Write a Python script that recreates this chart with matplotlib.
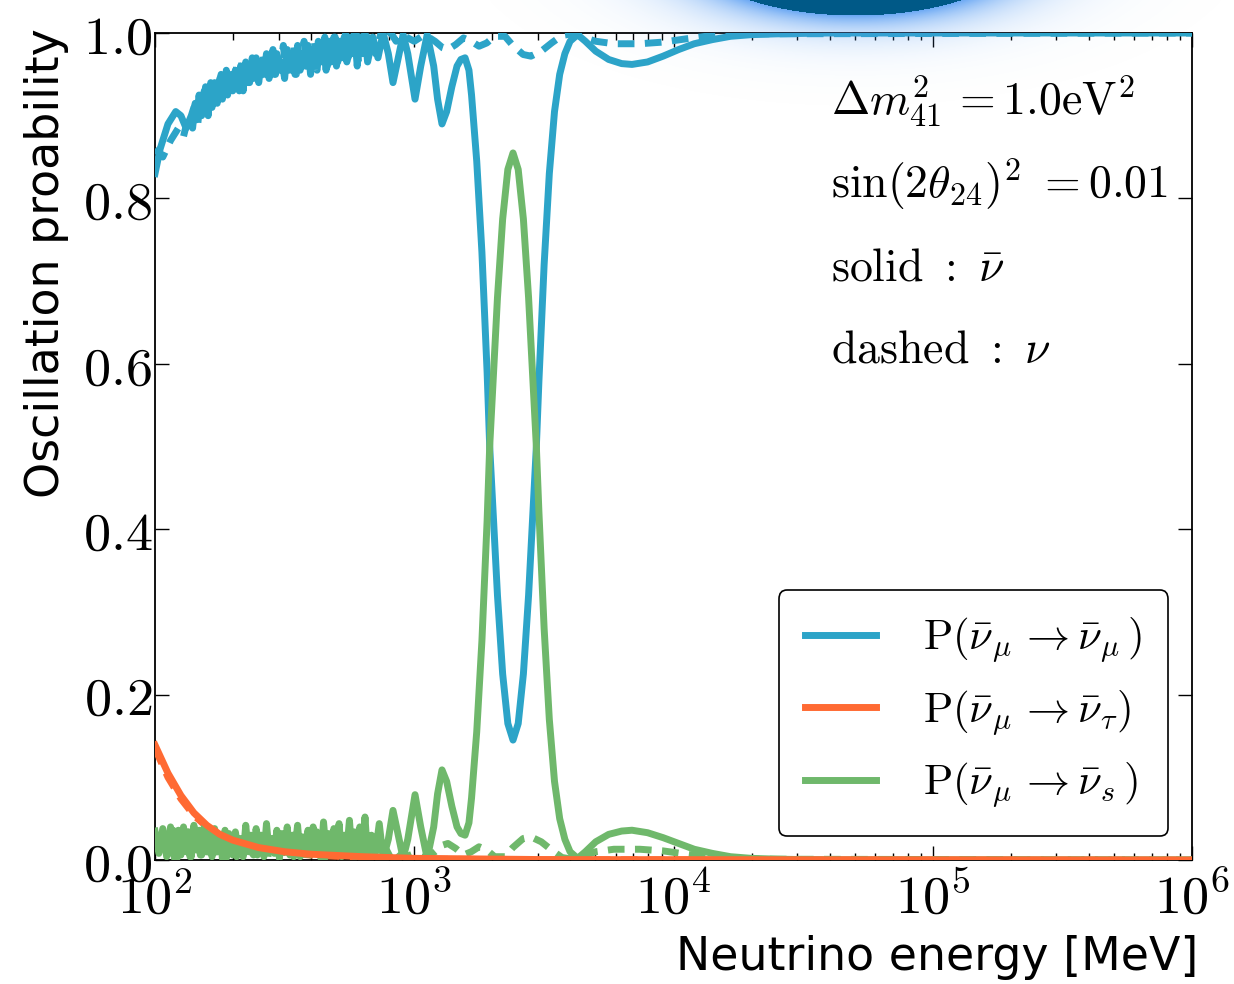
import matplotlib
matplotlib.use("Agg")
import matplotlib.pyplot as plt
import numpy as np
from matplotlib.ticker import FixedLocator, FuncFormatter, LogLocator, NullFormatter

plt.rcParams["mathtext.fontset"] = "cm"

# log10(E / MeV) and probabilities, solid = antineutrino
mumu_bar_loge = [
    2.00, 2.02, 2.05, 2.08, 2.10, 2.12, 2.14, 2.15, 2.16, 2.17, 2.18, 2.19, 2.20,
    2.21, 2.22, 2.23, 2.24, 2.25, 2.26, 2.27, 2.28, 2.29, 2.30, 2.31, 2.32, 2.33,
    2.34, 2.35, 2.36, 2.37, 2.38, 2.39, 2.40, 2.41, 2.42, 2.43, 2.44, 2.45, 2.46,
    2.47, 2.48, 2.49, 2.50, 2.51, 2.52, 2.53, 2.54, 2.55, 2.56, 2.57, 2.58, 2.59,
    2.60, 2.61, 2.62, 2.63, 2.64, 2.65, 2.66, 2.67, 2.68, 2.69, 2.70, 2.71, 2.72,
    2.73, 2.74, 2.75, 2.76, 2.77, 2.78, 2.79, 2.80, 2.81, 2.82, 2.84, 2.86, 2.88,
    2.90, 2.918, 2.935, 2.957, 2.975, 3.003, 3.025, 3.05, 3.075, 3.09, 3.107, 3.125,
    3.145, 3.165, 3.18, 3.196, 3.211, 3.221, 3.241, 3.261, 3.281, 3.291, 3.301,
    3.321, 3.341, 3.361, 3.381, 3.401, 3.421, 3.441, 3.461, 3.471, 3.481, 3.501,
    3.521, 3.541, 3.561, 3.581, 3.601, 3.63, 3.66, 3.70, 3.75, 3.80, 3.84, 3.90,
    3.96, 4.02, 4.08, 4.15, 4.22, 4.30, 4.40, 4.60, 6.00,
]
mumu_bar = [
    0.830, 0.860, 0.890, 0.905, 0.900, 0.885, 0.900, 0.910, 0.895, 0.925, 0.900, 0.930, 0.905,
    0.935, 0.910, 0.940, 0.915, 0.945, 0.920, 0.950, 0.925, 0.945, 0.930, 0.955, 0.935, 0.960,
    0.930, 0.965, 0.940, 0.960, 0.945, 0.970, 0.940, 0.965, 0.950, 0.975, 0.945, 0.970, 0.950,
    0.975, 0.955, 0.965, 0.945, 0.980, 0.955, 0.970, 0.950, 0.985, 0.955, 0.975, 0.960, 0.985,
    0.950, 0.980, 0.960, 0.990, 0.965, 0.985, 0.955, 0.990, 0.965, 0.995, 0.960, 0.990, 0.970,
    0.995, 0.965, 0.990, 0.975, 1.000, 0.960, 0.995, 0.975, 1.000, 0.965, 0.995, 0.970, 1.000,
    0.975, 0.940, 0.965, 0.998, 0.975, 0.920, 0.960, 0.998, 0.960, 0.920, 0.890, 0.905,
    0.935, 0.960, 0.968, 0.970, 0.955, 0.925, 0.845, 0.735, 0.590, 0.500, 0.440,
    0.320, 0.225, 0.165, 0.145, 0.165, 0.225, 0.320, 0.440, 0.500, 0.580, 0.720,
    0.830, 0.905, 0.950, 0.975, 0.990, 0.998, 0.990, 0.978, 0.968, 0.963, 0.962, 0.965,
    0.972, 0.980, 0.987, 0.992, 0.996, 0.998, 0.999, 1.000, 1.000,
]

mumu_loge = [
    2.00, 2.03, 2.06, 2.09, 2.11, 2.13, 2.145, 2.155, 2.165, 2.175, 2.185, 2.195,
    2.205, 2.215, 2.225, 2.235, 2.245, 2.255, 2.265, 2.275, 2.285, 2.295, 2.305,
    2.315, 2.325, 2.335, 2.345, 2.355, 2.365, 2.375, 2.385, 2.395, 2.405, 2.415,
    2.425, 2.435, 2.445, 2.455, 2.465, 2.475, 2.485, 2.495, 2.505, 2.515, 2.525,
    2.535, 2.545, 2.555, 2.565, 2.575, 2.585, 2.595, 2.605, 2.615, 2.625, 2.635,
    2.645, 2.655, 2.665, 2.675, 2.685, 2.695, 2.705, 2.715, 2.725, 2.735, 2.745,
    2.755, 2.765, 2.775, 2.785, 2.795, 2.81, 2.83, 2.85, 2.87, 2.89, 2.91, 2.93,
    2.95, 2.97, 3.00, 3.04, 3.08, 3.11, 3.13, 3.16, 3.19, 3.22, 3.25, 3.28, 3.31,
    3.35, 3.38, 3.42, 3.45, 3.49, 3.53, 3.57, 3.61, 3.65, 3.70, 3.77, 3.87, 3.96,
    4.05, 4.15, 4.30, 6.00,
]
mumu = [
    0.860, 0.850, 0.870, 0.885, 0.875, 0.900, 0.885, 0.915, 0.890, 0.920, 0.905, 0.935,
    0.900, 0.940, 0.915, 0.935, 0.920, 0.950, 0.925, 0.955, 0.930, 0.950, 0.935,
    0.960, 0.930, 0.965, 0.945, 0.960, 0.940, 0.970, 0.950, 0.965, 0.945, 0.975,
    0.950, 0.970, 0.955, 0.980, 0.950, 0.970, 0.960, 0.985, 0.955, 0.975, 0.960,
    0.985, 0.950, 0.980, 0.965, 0.990, 0.960, 0.980, 0.965, 0.990, 0.955, 0.985,
    0.970, 0.995, 0.960, 0.990, 0.970, 0.995, 0.965, 0.990, 0.975, 1.000, 0.970,
    0.995, 0.975, 1.000, 0.965, 0.995, 0.980, 1.000, 0.975, 0.998, 0.985, 1.000, 0.990,
    0.998, 0.995, 0.990, 0.998, 0.990, 0.982, 0.980, 0.986, 0.994, 0.990, 0.984, 0.988, 0.996,
    0.996, 0.985, 0.974, 0.972, 0.978, 0.988, 0.997, 0.999, 0.995, 0.990, 0.987, 0.987, 0.989,
    0.993, 0.997, 0.999, 1.000,
]

mutau_bar_loge = [2.00, 2.05, 2.10, 2.15, 2.20, 2.25, 2.30, 2.40, 2.50, 2.60, 2.80, 3.00, 3.50, 6.00]
mutau_bar = [0.139, 0.105, 0.078, 0.057, 0.042, 0.031, 0.024, 0.015, 0.010, 0.007, 0.004, 0.002, 0.0005, 0.0]
mutau_loge = [2.00, 2.05, 2.10, 2.15, 2.20, 2.25, 2.30, 2.40, 2.50, 2.60, 2.80, 3.00, 3.50, 6.00]
mutau = [0.135, 0.100, 0.074, 0.054, 0.040, 0.030, 0.022, 0.014, 0.009, 0.006, 0.003, 0.001, 0.0003, 0.0]

mus_bar_loge = [
    2.000, 2.015, 2.030, 2.045, 2.060, 2.075, 2.090, 2.100, 2.110, 2.120, 2.130, 2.140,
    2.150, 2.160, 2.170, 2.180, 2.190, 2.200, 2.210, 2.220, 2.230, 2.240, 2.250, 2.260,
    2.270, 2.280, 2.290, 2.300, 2.310, 2.320, 2.330, 2.340, 2.350, 2.360, 2.370, 2.380,
    2.390, 2.400, 2.410, 2.420, 2.430, 2.440, 2.450, 2.460, 2.470, 2.480, 2.490, 2.500,
    2.510, 2.520, 2.530, 2.540, 2.550, 2.560, 2.570, 2.580, 2.590, 2.600, 2.610, 2.620,
    2.630, 2.640, 2.650, 2.660, 2.670, 2.680, 2.690, 2.700, 2.710, 2.720, 2.730, 2.740,
    2.750, 2.760, 2.770, 2.780, 2.790, 2.800, 2.810, 2.820, 2.835, 2.850, 2.865, 2.880,
    2.90, 2.918, 2.935, 2.957, 2.975, 3.003, 3.025, 3.05, 3.075, 3.09, 3.107, 3.125,
    3.145, 3.165, 3.18, 3.196, 3.211, 3.221, 3.241, 3.261, 3.281, 3.291, 3.301,
    3.321, 3.341, 3.361, 3.381, 3.401, 3.421, 3.441, 3.461, 3.471, 3.481, 3.501,
    3.521, 3.541, 3.561, 3.581, 3.601, 3.63, 3.66, 3.70, 3.75, 3.80, 3.84, 3.90,
    3.96, 4.02, 4.08, 4.15, 4.22, 4.30, 4.40, 4.60, 6.00,
]
mus_bar = [
    0.035, 0.008, 0.038, 0.004, 0.040, 0.002, 0.036, 0.006, 0.040, 0.010, 0.034, 0.004,
    0.042, 0.012, 0.036, 0.006, 0.040, 0.014, 0.032, 0.004, 0.038, 0.010, 0.030, 0.002,
    0.036, 0.012, 0.028, 0.006, 0.034, 0.014, 0.026, 0.004, 0.042, 0.010, 0.030, 0.006,
    0.038, 0.012, 0.030, 0.004, 0.044, 0.010, 0.026, 0.008, 0.036, 0.002, 0.032, 0.012,
    0.040, 0.006, 0.030, 0.014, 0.042, 0.004, 0.028, 0.010, 0.036, 0.006, 0.040, 0.012,
    0.030, 0.002, 0.046, 0.010, 0.032, 0.006, 0.038, 0.014, 0.044, 0.004, 0.030, 0.012,
    0.048, 0.006, 0.034, 0.002, 0.040, 0.010, 0.052, 0.004, 0.030, 0.008, 0.044, 0.002,
    0.025, 0.060, 0.035, 0.002, 0.025, 0.079, 0.040, 0.002, 0.040, 0.080, 0.109, 0.095,
    0.065, 0.040, 0.032, 0.030, 0.045, 0.075, 0.155, 0.265, 0.410, 0.500, 0.560,
    0.680, 0.775, 0.835, 0.855, 0.835, 0.775, 0.680, 0.560, 0.500, 0.420, 0.280,
    0.170, 0.095, 0.050, 0.025, 0.010, 0.002, 0.010, 0.022, 0.031, 0.035, 0.036, 0.033,
    0.027, 0.020, 0.013, 0.008, 0.004, 0.002, 0.001, 0.000, 0.000,
]

mus_loge = [
    2.000, 2.020, 2.040, 2.055, 2.070, 2.085, 2.105, 2.115, 2.125, 2.135, 2.145, 2.155,
    2.165, 2.175, 2.185, 2.195, 2.205, 2.215, 2.225, 2.235, 2.245, 2.255, 2.265, 2.275,
    2.285, 2.295, 2.305, 2.315, 2.325, 2.335, 2.345, 2.355, 2.365, 2.375, 2.385, 2.395,
    2.405, 2.415, 2.425, 2.435, 2.445, 2.455, 2.465, 2.475, 2.485, 2.495, 2.505, 2.515,
    2.525, 2.535, 2.545, 2.555, 2.565, 2.575, 2.585, 2.595, 2.605, 2.615, 2.625, 2.635,
    2.645, 2.655, 2.665, 2.675, 2.685, 2.695, 2.705, 2.715, 2.725, 2.735, 2.745, 2.755,
    2.765, 2.775, 2.785, 2.795, 2.81, 2.83, 2.85, 2.87, 2.89, 2.91, 2.93, 2.95,
    2.97, 3.00, 3.04, 3.08, 3.11, 3.13, 3.16, 3.19, 3.22, 3.25, 3.28, 3.31,
    3.35, 3.38, 3.42, 3.45, 3.49, 3.53, 3.57, 3.61, 3.65, 3.70, 3.77, 3.87, 3.96,
    4.05, 4.15, 4.30, 6.00,
]
mus = [
    0.030, 0.004, 0.032, 0.008, 0.036, 0.002, 0.030, 0.010, 0.034, 0.004, 0.028, 0.012,
    0.034, 0.006, 0.030, 0.002, 0.032, 0.010, 0.026, 0.004, 0.030, 0.012, 0.028, 0.002,
    0.032, 0.008, 0.024, 0.004, 0.030, 0.010, 0.026, 0.002, 0.034, 0.008, 0.022, 0.006,
    0.030, 0.010, 0.024, 0.002, 0.032, 0.006, 0.020, 0.008, 0.028, 0.002, 0.030, 0.010,
    0.022, 0.004, 0.032, 0.006, 0.020, 0.002, 0.030, 0.008, 0.024, 0.004, 0.034, 0.010,
    0.020, 0.002, 0.028, 0.006, 0.022, 0.004, 0.030, 0.008, 0.018, 0.002, 0.026, 0.006,
    0.020, 0.002, 0.028, 0.006, 0.016, 0.002, 0.022, 0.004, 0.014, 0.002, 0.010, 0.003,
    0.004, 0.008, 0.002, 0.010, 0.018, 0.020, 0.014, 0.006, 0.010, 0.016, 0.012, 0.004,
    0.004, 0.015, 0.026, 0.028, 0.022, 0.012, 0.003, 0.001, 0.005, 0.010, 0.013, 0.013, 0.011,
    0.007, 0.003, 0.001, 0.000,
]

blue = "#2ca4c8"
orange = "#ff6a33"
green = "#6fb86b"
lw = 5.0
dash = (2.4, 1.5)

fig = plt.figure(figsize=(12.34, 9.84), dpi=100)
ax = fig.add_axes([155 / 1234, 1 - 860 / 984, 1037 / 1234, 827 / 984])

ax.plot(10 ** np.array(mumu_bar_loge), mumu_bar, color=blue, lw=lw, zorder=3,
        label=r"$\mathrm{P}(\bar{\nu}_\mu\,{\rightarrow}\bar{\nu}_\mu\,)$")
ax.plot(10 ** np.array(mumu_loge), mumu, color=blue, lw=lw, dashes=dash, zorder=3)
ax.plot(10 ** np.array(mutau_bar_loge), mutau_bar, color=orange, lw=lw, zorder=5,
        label=r"$\mathrm{P}(\bar{\nu}_\mu\,{\rightarrow}\bar{\nu}_\tau)$")
ax.plot(10 ** np.array(mutau_loge), mutau, color=orange, lw=lw, dashes=dash, zorder=3)
ax.plot(10 ** np.array(mus_bar_loge), mus_bar, color=green, lw=lw, zorder=4,
        label=r"$\mathrm{P}(\bar{\nu}_\mu\,{\rightarrow}\bar{\nu}_s\,)$")
ax.plot(10 ** np.array(mus_loge), mus, color=green, lw=lw, dashes=dash, zorder=4)

ax.set_xscale("log")
ax.set_xlim(1e2, 1e6)
ax.set_ylim(0, 1)

ax.xaxis.set_major_locator(LogLocator(base=10, numticks=10))
ax.xaxis.set_minor_locator(LogLocator(base=10, subs=np.arange(2, 10), numticks=50))
ax.xaxis.set_major_formatter(FuncFormatter(lambda v, p: r"$10^{%d}$" % round(np.log10(v))))
ax.xaxis.set_minor_formatter(NullFormatter())
ax.yaxis.set_major_locator(FixedLocator([0, 0.2, 0.4, 0.6, 0.8, 1.0]))
ax.yaxis.set_major_formatter(FuncFormatter(lambda v, p: r"$%.1f$" % v))
ax.tick_params(which="both", direction="in", top=True, right=True, labelsize=39)
ax.tick_params(which="major", length=10, width=1)
ax.tick_params(which="minor", length=5, width=1)
ax.tick_params(axis="x", pad=9)
ax.tick_params(axis="y", pad=2)
for s in ax.spines.values():
    s.set_linewidth(1.3)

label_font = ["Liberation Sans Narrow", "DejaVu Sans"]
fig.text(47 / 1234, 1 - 28 / 984, "Oscillation proability", rotation=90,
         ha="center", va="top", fontsize=33, family=label_font)
fig.text(1198 / 1234, 1 - 958 / 984, "Neutrino energy [MeV]",
         ha="right", va="center", fontsize=33, family=label_font)

notes = [
    r"$\Delta m^2_{41}\,{=}1.0\mathrm{eV}^2$",
    r"$\sin(2\theta_{24})^2\ {=}0.01$",
    r"$\mathrm{solid}\ :\ \bar{\nu}$",
    r"$\mathrm{dashed}\ :\ \nu$",
]
for i, t in enumerate(notes):
    ax.text(0.652, 0.901 - i * 0.1, t, transform=ax.transAxes, fontsize=33,
            ha="left", va="baseline")

leg = ax.legend(loc="lower right", fontsize=31, handlelength=1.65, handletextpad=1.1,
                borderpad=0.6, labelspacing=0.55, borderaxespad=0.55, fancybox=True,
                framealpha=1, edgecolor="black")
leg.get_frame().set_linewidth(1.2)
leg.set_zorder(6)

# blue glow at the top edge of the page
W, H = 1234, 984
yy, xx = np.mgrid[0:H, 0:W]
r = np.sqrt(((xx - 855) / 170.0) ** 2 + ((yy + 55) / 70.0) ** 2)
rgba = np.zeros((H, W, 4))
core = r < 1
rgba[core] = [0.0, 0.35, 0.53, 1.0]
halo = ~core
a = 0.85 * np.exp(-(r[halo] - 1) / 0.24)
rgba[halo, 0] = 0.32
rgba[halo, 1] = 0.60
rgba[halo, 2] = 0.95
rgba[halo, 3] = a
over = fig.add_axes([0, 0, 1, 1], zorder=10)
over.imshow(rgba, extent=(0, W, H, 0), aspect="auto", interpolation="bilinear")
over.set_xlim(0, W)
over.set_ylim(H, 0)
over.axis("off")

fig.savefig("out.png", dpi=100, facecolor="white")
